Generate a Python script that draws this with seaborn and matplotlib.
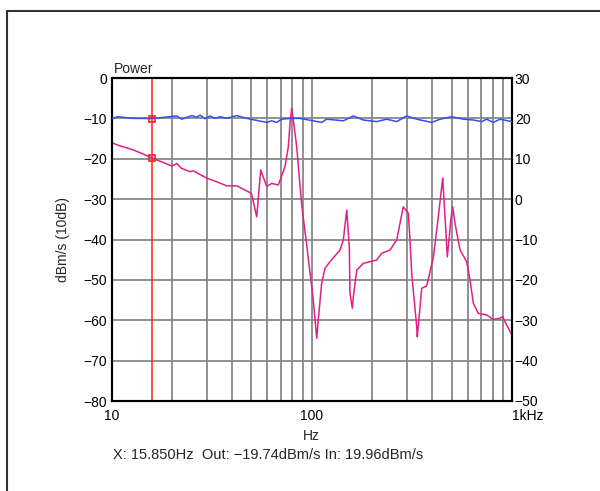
import numpy as np
import pandas as pd
import matplotlib
matplotlib.use("Agg")
import matplotlib.pyplot as plt
from matplotlib.patches import Rectangle
import seaborn as sns

# Out (left axis, dBm/s)
out_freq = [10.0, 11.0, 12.85, 15.85, 20.0, 21.2, 22.4, 24.7, 25.6, 29.9, 33.5, 37.6,
            42.2, 49.2, 50.1, 53.1, 55.6, 59.6, 63.1, 68.1, 73.5, 76.4, 77.9, 79.4,
            80.9, 84.1, 89.1, 94.4, 101.8, 105.9, 107.8, 112.1, 116.5, 123.4, 138.4,
            143.8, 149.5, 154.0, 155.2, 159.4, 161.3, 167.7, 180.9, 211.0, 223.6,
            246.0, 265.6, 286.5, 303.5, 309.5, 315.6, 334.3, 336.6, 354.1, 375.0,
            404.6, 428.5, 445.7, 450.8, 457.5, 468.2, 475.3, 486.4, 494.3, 505.8,
            519.4, 550.1, 593.9, 617.0, 640.9, 678.8, 747.4, 806.5, 871.2, 898.6,
            922.6, 1000.0]
out_db = [-16.0, -16.8, -17.8, -19.74, -21.8, -21.2, -22.4, -23.2, -23.0, -24.8, -25.7,
          -26.7, -26.7, -28.4, -28.8, -34.4, -22.8, -26.9, -26.1, -26.5, -22.0, -17.0,
          -11.2, -7.5, -10.4, -17.0, -31.5, -41.4, -55.0, -64.5, -59.9, -50.8, -47.1,
          -45.5, -42.6, -40.1, -32.7, -41.8, -53.3, -57.0, -54.2, -47.6, -45.9, -45.1,
          -43.4, -42.6, -40.1, -31.9, -33.5, -40.1, -48.4, -61.6, -64.1, -52.1, -51.5,
          -44.5, -34.4, -26.9, -24.8, -30.2, -38.5, -44.3, -39.3, -35.2, -31.9, -36.0,
          -42.6, -45.5, -50.0, -55.8, -58.3, -58.7, -59.8, -59.5, -59.1, -60.4, -63.7]

# In (right axis, dBm/s)
in_freq = [10.0, 10.8, 12.85, 15.85, 21.2, 22.4, 25.2, 26.6, 27.7, 29.3, 31.0, 32.9,
           34.8, 37.6, 42.2, 47.3, 59.6, 63.1, 66.8, 70.8, 77.9, 87.4, 112.1, 118.8,
           143.8, 161.3, 180.9, 211.0, 236.7, 265.6, 298.0, 334.3, 397.2, 436.9,
           500.0, 571.2, 640.9, 706.0, 747.4, 806.5, 871.2, 1000.0]
in_db = [20.0, 20.4, 20.0, 19.96, 20.6, 19.8, 20.7, 20.3, 20.8, 19.9, 20.6, 20.0,
         20.4, 20.0, 20.7, 20.0, 19.0, 19.4, 19.0, 19.8, 20.0, 20.0, 19.0, 19.8,
         19.4, 20.6, 19.6, 19.2, 19.8, 19.2, 20.6, 19.8, 19.0, 19.8, 20.4, 19.8,
         19.6, 19.2, 19.8, 19.0, 19.8, 19.2]

cursor_freq = 15.85
cursor_out = -19.74
cursor_in = 19.96

left_ticks = [0, -10, -20, -30, -40, -50, -60, -70, -80]
right_ticks = [30, 20, 10, 0, -10, -20, -30, -40, -50]
x_ticks = [10, 100, 1000]
x_labels = ["10", "100", "1kHz"]

out_df = pd.DataFrame({"freq": out_freq, "db": out_db})
in_df = pd.DataFrame({"freq": in_freq, "db": in_db})

sns.set_style("white")
plt.rcParams["font.family"] = ["Liberation Sans", "DejaVu Sans"]
plt.rcParams["font.size"] = 10

fig = plt.figure(figsize=(6, 4.91), dpi=100)
fig.add_artist(Rectangle((7 / 600, -0.1), 1.2, 1 - 11 / 491 + 0.1, transform=fig.transFigure,
                         fill=False, edgecolor="#333333", linewidth=1.5))

ax = fig.add_axes([111.5 / 600, 1 - 401 / 491, 400.5 / 600, 323 / 491])
ax.set_xscale("log")
ax.set_xlim(10, 1000)
ax.set_ylim(-80, 0)
ax.grid(which="both", axis="x", color="#888888", linewidth=1.3)
ax.grid(which="major", axis="y", color="#888888", linewidth=1.3)
ax.set_axisbelow(True)
ax.set_yticks(left_ticks)
ax.set_xticks(x_ticks)
ax.set_xticklabels(x_labels)
ax.xaxis.set_minor_formatter(matplotlib.ticker.NullFormatter())
ax.tick_params(axis="both", which="both", length=0, labelsize=10, colors="black")
ax.tick_params(axis="y", pad=3)
ax.tick_params(axis="x", pad=6)
ax.get_xticklabels()[-1].set_horizontalalignment("left")
ax.get_yticklabels()[-1].set_verticalalignment("center_baseline")
for s in ax.spines.values():
    s.set_color("black")
    s.set_linewidth(1.5)

ax.axvline(cursor_freq, color="#ff2020", linewidth=1.1, zorder=2)
sns.lineplot(data=out_df, x="freq", y="db", ax=ax, color="#e0208a", linewidth=1.1,
             estimator=None, sort=False, zorder=3)
ax.plot([cursor_freq], [cursor_out], marker="s", markersize=4.5, markerfacecolor="none",
        markeredgecolor="#ff2020", markeredgewidth=1.2, zorder=5)
ax.set_xlabel("Hz", fontsize=10, labelpad=4)
ax.set_ylabel("dBm/s (10dB)", fontsize=10, labelpad=10)

ax2 = ax.twinx()
ax2.set_ylim(-50, 30)
ax2.set_yticks(right_ticks)
ax2.tick_params(axis="y", length=0, pad=2, labelsize=10, colors="black")
ax2.get_yticklabels()[-1].set_verticalalignment("center_baseline")
sns.lineplot(data=in_df, x="freq", y="db", ax=ax2, color="#3050ee", linewidth=1.1,
             estimator=None, sort=False, zorder=3)
ax2.plot([cursor_freq], [cursor_in], marker="s", markersize=4.5, markerfacecolor="none",
         markeredgecolor="#ff2020", markeredgewidth=1.2, zorder=5)
ax2.set_ylabel("")
ax2.set_xlabel("")
for s in ax2.spines.values():
    s.set_color("black")
    s.set_linewidth(1.5)

fig.text(114 / 600, 1 - 69 / 491, "Power", fontsize=10, ha="left", va="center")
fig.text(113 / 600, 1 - 455 / 491,
         "X: 15.850Hz  Out: \u221219.74dBm/s In: 19.96dBm/s",
         fontsize=10.5, ha="left", va="center")

fig.savefig("out.png", dpi=100)
